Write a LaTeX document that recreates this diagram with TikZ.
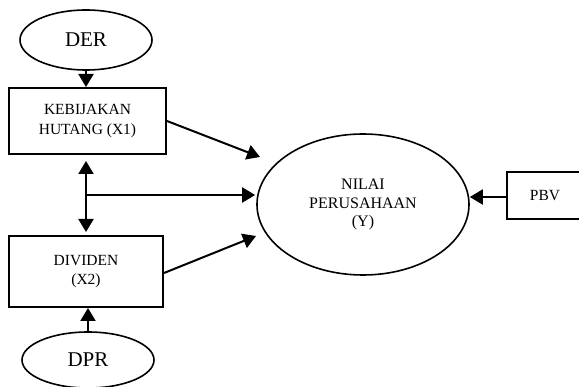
\documentclass[tikz,border=0pt]{standalone}
\usepackage{fontspec}
\setmainfont{Liberation Serif}
\usetikzlibrary{positioning, arrows.meta, shapes.geometric}

\begin{document}
\begin{tikzpicture}[x=1pt, y=-1pt, ->, >={Triangle[length=13pt,width=15pt]}, line width=2pt,
      indik/.style={ellipse, draw, line width=1.6pt, inner sep=0pt, font=\fontsize{21}{24}\selectfont},
      var/.style={rectangle, draw, line width=2pt, inner sep=0pt, align=center, font=\fontsize{15.5}{19.5}\selectfont},
      target/.style={ellipse, draw, line width=1.6pt, inner sep=0pt, align=center, font=\fontsize{16}{18.5}\selectfont}]

      \useasboundingbox (0,0) rectangle (579,387);

      \node[indik, minimum width=132pt, minimum height=60pt] (DER) at (86,40) {DER};
      \node[var, minimum width=157pt, minimum height=66pt] (KEB) at (87.5,121) {KEBIJAKAN\\HUTANG (X1)};
      \node[var, minimum width=154pt, minimum height=71pt] (DIV) at (86,271.5) {DIVIDEN\\(X2)};
      \node[indik, minimum width=132pt, minimum height=56pt] (DPR) at (88,360) {DPR};
      \node[target, minimum width=212pt, minimum height=141pt] (Y) at (363,204.5) {NILAI\\PERUSAHAAN\\(Y)};
      \node[var, minimum width=76pt, minimum height=47pt] (PBV) at (545,195.5) {PBV};

      \coordinate (J) at (86,195);
      \coordinate (t1) at (260,157);
      \coordinate (t2) at (256,236);

      \draw (DER.south) -- (DER.south |- KEB.north);
      \draw (DPR.north) -- (DPR.north |- DIV.south);
      \draw[<->, shorten <=6pt, shorten >=3pt] (KEB.south -| J) -- (DIV.north -| J);
      \draw (J) -- ([xshift=-1pt]J -| Y.west);
      \draw (KEB.east) -- (t1);
      \draw (DIV.east |- 0,273) -- (t2);
      \draw (PBV.west |- 0,197) -- (Y.east |- 0,197);
    \end{tikzpicture}
\end{document}
